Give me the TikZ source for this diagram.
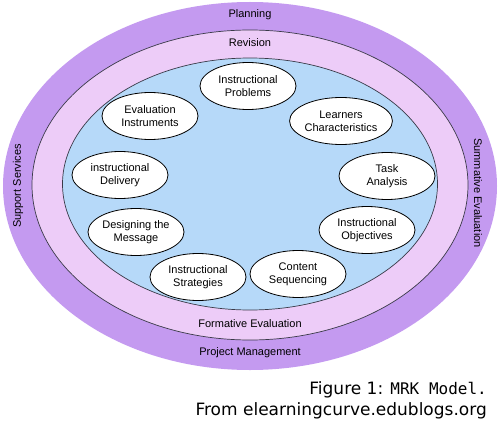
\documentclass[tikz,border=0pt]{standalone}
\usepackage{fontspec}
\setmainfont{Liberation Sans}
\newfontfamily\captionfont{DejaVu Sans}
\newfontfamily\captionmono{DejaVu Sans Mono}
\usetikzlibrary{
    shapes.geometric
}

\definecolor{planpurple}{HTML}{C49AF0}
\definecolor{revpink}{HTML}{EDCCF8}
\definecolor{coreblue}{HTML}{B6D9F9}
\definecolor{edgegray}{HTML}{3A3A48}

\begin{document}
\begin{tikzpicture}[
    x=1pt,
    y=-1pt,
    ring/.style = {
        ellipse,
        inner sep=0pt
    },
    stage/.style = {
        draw,
        ellipse,
        fill=white,
        line width=0.8pt,
        inner sep=0pt,
        minimum width=96pt,
        minimum height=47pt,
        align=center,
        font=\fontsize{11}{13}\selectfont
    },
    bandlabel/.style = {
        inner sep=0pt,
        font=\fontsize{11}{13}\selectfont
    },
]
    \useasboundingbox (0,0) rectangle (500,425);

    % Rings, from outside in
    \node [ring, fill=planpurple,
        minimum width=494pt, minimum height=368pt] (planning_ring) at (250,186) {};
    \node [ring, draw=edgegray, line width=0.7pt, fill=revpink,
        minimum width=436pt, minimum height=310pt] (revision_ring) at (250,185) {};
    \node [ring, draw=edgegray, line width=0.7pt, fill=coreblue,
        minimum width=375pt, minimum height=252pt] (core_ring) at (250,184) {};

    % Labels on the bands
    \node [bandlabel] (planning) at (250,15) {Planning};
    \node [bandlabel] (revision) at (250,43) {Revision};
    \node [bandlabel] (formative_eval) at (250,324) {Formative Evaluation};
    \node [bandlabel] (project_mgmt) at (250,353) {Project Management};
    \node [bandlabel, rotate=90] (support) at (18,186) {Support Services};
    \node [bandlabel, rotate=-90] (summative_eval) at (478,193) {Summative Evaluation};

    % Stages
    \node [stage] (instr_problems) at (248,86) {Instructional\\ Problems};
    \node [stage] (learners) at (341,121) {Learners\\ Characteristics};
    \node [stage] (task_analysis) at (387,176) {Task\\ Analysis};
    \node [stage] (instr_objectives) at (367,230) {Instructional\\ Objectives};
    \node [stage] (content_seq) at (298,274) {Content\\ Sequencing};
    \node [stage] (instr_strategies) at (198,277) {Instructional\\ Strategies};
    \node [stage] (designing_msg) at (136,232) {Designing the\\ Message};
    \node [stage] (instr_delivery) at (120,175) {instructional\\ Delivery};
    \node [stage] (eval_instruments) at (150,116) {Evaluation\\ Instruments};

    % Caption
    \node [anchor=base east, inner sep=0pt,
        font=\captionfont\fontsize{17}{20}\selectfont] (caption_title) at (487,394)
        {Figure 1: {\captionmono\fontsize{16}{20}\selectfont MRK Model.}};
    \node [anchor=base east, inner sep=0pt,
        font=\captionfont\fontsize{17}{20}\selectfont] (caption_source) at (487,415)
        {From elearningcurve.edublogs.org};
\end{tikzpicture}
\end{document}
